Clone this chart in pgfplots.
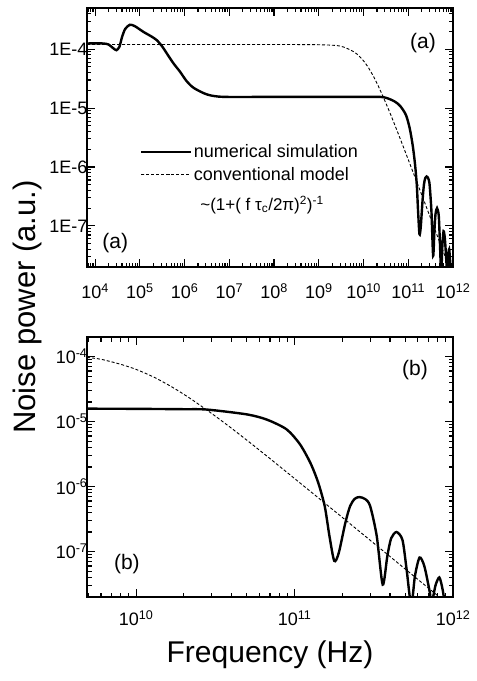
\documentclass[border=0pt]{standalone}
\usepackage{fontspec}
\setmainfont{Liberation Sans}
\usepackage{pgfplots}
\pgfplotsset{compat=1.18}

\newcommand\sci[1]{10\textsuperscript{#1}}
\newcommand\tagfont{\fontsize{21}{21}\selectfont}

\begin{document}
\begin{tikzpicture}
\useasboundingbox (0,0) rectangle (477pt,-681pt);

% upper panel (a)
\begin{axis}[
    scale only axis, width=366pt, height=259pt,
    at={(87pt,-267pt)}, anchor=south west,
    xmode=log, ymode=log,
    xmin=6.6e3, xmax=1e12, ymin=2e-8, ymax=5e-4,
    axis line style={line width=1.4pt},
    tick style={black, line width=1.1pt},
    major tick length=8pt, minor tick length=4.5pt,
    tick label style={font=\fontsize{18}{18}\selectfont},
    xtick={1e4,1e5,1e6,1e7,1e8,1e9,1e10,1e11,1e12},
    xticklabels={\sci{4},\sci{5},\sci{6},\sci{7},\sci{8},\sci{9},\sci{10},\sci{11},\sci{12}},
    minor xtick={7e3,8e3,9e3,
      2e4,3e4,4e4,5e4,6e4,7e4,8e4,9e4, 2e5,3e5,4e5,5e5,6e5,7e5,8e5,9e5,
      2e6,3e6,4e6,5e6,6e6,7e6,8e6,9e6, 2e7,3e7,4e7,5e7,6e7,7e7,8e7,9e7,
      2e8,3e8,4e8,5e8,6e8,7e8,8e8,9e8, 2e9,3e9,4e9,5e9,6e9,7e9,8e9,9e9,
      2e10,3e10,4e10,5e10,6e10,7e10,8e10,9e10, 2e11,3e11,4e11,5e11,6e11,7e11,8e11,9e11},
    xticklabel style={yshift=-13pt},
    ytick={1e-7,1e-6,1e-5,1e-4},
    yticklabels={1E-7,1E-6,1E-5,1E-4},
    minor ytick={3e-8,4e-8,5e-8,6e-8,7e-8,8e-8,9e-8,
      2e-7,3e-7,4e-7,5e-7,6e-7,7e-7,8e-7,9e-7, 2e-6,3e-6,4e-6,5e-6,6e-6,7e-6,8e-6,9e-6,
      2e-5,3e-5,4e-5,5e-5,6e-5,7e-5,8e-5,9e-5, 2e-4,3e-4,4e-4},
    yticklabel style={xshift=4pt},
    legend image post style={xscale=2.9},
    legend style={at={(0.136,0.489)}, anchor=north west, draw=none, fill=none,
        font=\fontsize{18}{18}\selectfont, legend cell align=left,
        row sep=4pt},
]
\addplot[black, line width=2.4pt, smooth, tension=0.45] coordinates {
  (6.6e3,1.25e-4) (1.5e4,1.25e-4) (2.0e4,1.2e-4) (2.5e4,1.05e-4) (3.0e4,9.6e-5)
  (3.5e4,1.1e-4) (4.0e4,1.6e-4) (4.7e4,2.2e-4) (6.0e4,2.6e-4) (7.8e4,2.45e-4)
  (1.2e5,1.97e-4) (1.8e5,1.65e-4) (2.4e5,1.42e-4) (3.2e5,1.1e-4) (4.0e5,8.5e-5)
  (5.6e5,5.8e-5) (8.0e5,4.1e-5) (1.1e6,2.9e-5) (1.6e6,2.2e-5) (3.2e6,1.7e-5)
  (7.4e6,1.55e-5) (1e8,1.55e-5) (1e9,1.55e-5) (1e10,1.55e-5) (2.8e10,1.53e-5)
  (5e10,1.29e-5) (6.7e10,1.07e-5) (8.9e10,7.6e-6) (1.08e11,4.5e-6)
  (1.26e11,2.3e-6) (1.41e11,1.15e-6) (1.55e11,5.0e-7) (1.66e11,1.74e-7)
  (1.78e11,7.2e-8) (1.9e11,9.5e-8) (2.09e11,2.75e-7) (2.24e11,5.0e-7)
  (2.4e11,6.5e-7) (2.57e11,6.9e-7) (2.8e11,6.4e-7) (3.0e11,5.0e-7)
  (3.3e11,1.74e-7) (3.6e11,3.1e-8) (3.85e11,8.5e-8) (4.07e11,1.6e-7)
  (4.4e11,2.0e-7) (4.8e11,1.5e-7) (5.1e11,5.2e-8) (5.45e11,1.5e-8)
  (5.75e11,4.2e-8) (6.15e11,8.1e-8) (6.6e11,5.9e-8) (7.15e11,2.3e-8)
  (7.3e11,1.5e-8) (7.75e11,3.0e-8) (8.2e11,4.0e-8) (8.6e11,2.6e-8) (8.9e11,1.5e-8)
};
\addlegendentry{numerical simulation}
\addplot[black, line width=0.9pt, dash pattern=on 3pt off 2pt, smooth, tension=0.45] coordinates {
  (6.6e3,1.2e-4) (1e6,1.2e-4) (1e8,1.2e-4) (1e9,1.19e-4) (3e9,1.13e-4)
  (6e9,9.1e-5) (8e9,7.6e-5) (1e10,6.35e-5) (1.3e10,4.8e-5) (1.7e10,3.36e-5)
  (2.2e10,2.26e-5) (3e10,1.33e-5) (4e10,7.9e-6) (6e10,3.64e-6) (1e11,1.33e-6)
  (2e11,3.36e-7) (4e11,8.4e-8) (8e11,2.1e-8) (1e12,1.35e-8)
};
\addlegendentry{conventional model}
\node[anchor=west, font=\fontsize{17}{17}\selectfont] at (axis description cs:0.30,0.24)
  {\textasciitilde(1+( f τ\textsubscript{c}/2π)\textsuperscript{2})\textsuperscript{-1}};
\node[font=\tagfont] at (axis description cs:0.918,0.865) {(a)};
\node[font=\tagfont] at (axis description cs:0.077,0.093) {(a)};
\end{axis}

% lower panel (b)
\begin{axis}[
    scale only axis, width=366pt, height=260pt,
    at={(87pt,-597pt)}, anchor=south west,
    xmode=log, ymode=log,
    xmin=4.9e9, xmax=1e12, ymin=2e-8, ymax=2e-4,
    axis line style={line width=1.4pt},
    tick style={black, line width=1.1pt},
    major tick length=8pt, minor tick length=4.5pt,
    tick label style={font=\fontsize{18}{18}\selectfont},
    xtick={1e10,1e11,1e12},
    xticklabels={\sci{10},\sci{11},\sci{12}},
    minor xtick={5e9,6e9,7e9,8e9,9e9,
      2e10,3e10,4e10,5e10,6e10,7e10,8e10,9e10, 2e11,3e11,4e11,5e11,6e11,7e11,8e11,9e11},
    xticklabel style={yshift=-10pt},
    ytick={1e-7,1e-6,1e-5,1e-4},
    yticklabels={\sci{-7},\sci{-6},\sci{-5},\sci{-4}},
    minor ytick={3e-8,4e-8,5e-8,6e-8,7e-8,8e-8,9e-8,
      2e-7,3e-7,4e-7,5e-7,6e-7,7e-7,8e-7,9e-7, 2e-6,3e-6,4e-6,5e-6,6e-6,7e-6,8e-6,9e-6,
      2e-5,3e-5,4e-5,5e-5,6e-5,7e-5,8e-5,9e-5},
    yticklabel style={xshift=4pt},
]
\addplot[black, line width=2.4pt, smooth, tension=0.45] coordinates {
  (4.9e9,1.58e-5) (1e10,1.57e-5) (2e10,1.55e-5) (2.8e10,1.53e-5)
  (5e10,1.29e-5) (6.7e10,1.07e-5) (8.9e10,7.6e-6) (1.08e11,4.5e-6)
  (1.26e11,2.3e-6) (1.41e11,1.15e-6) (1.55e11,5.0e-7) (1.66e11,1.74e-7)
  (1.78e11,7.2e-8) (1.9e11,9.5e-8) (2.09e11,2.75e-7) (2.24e11,5.0e-7)
  (2.4e11,6.5e-7) (2.57e11,6.9e-7) (2.8e11,6.4e-7) (3.0e11,5.0e-7)
  (3.3e11,1.74e-7) (3.6e11,3.1e-8) (3.85e11,8.5e-8) (4.07e11,1.6e-7)
  (4.4e11,2.0e-7) (4.8e11,1.5e-7) (5.1e11,5.2e-8) (5.45e11,1.5e-8)
  (5.75e11,4.2e-8) (6.15e11,8.1e-8) (6.6e11,5.9e-8) (7.15e11,2.3e-8)
  (7.3e11,1.5e-8) (7.75e11,3.0e-8) (8.2e11,4.0e-8) (8.6e11,2.6e-8) (8.9e11,1.5e-8)
};
\addplot[black, line width=0.9pt, dash pattern=on 3pt off 2pt, smooth, tension=0.45] coordinates {
  (4.9e9,9.7e-5) (6e9,9.1e-5) (8e9,7.6e-5) (1e10,6.35e-5) (1.3e10,4.8e-5)
  (1.7e10,3.36e-5) (2.2e10,2.26e-5) (3e10,1.33e-5) (4e10,7.9e-6) (6e10,3.64e-6)
  (1e11,1.33e-6) (2e11,3.36e-7) (4e11,8.4e-8) (8e11,2.1e-8) (1e12,1.35e-8)
};
\node[font=\tagfont] at (axis description cs:0.896,0.873) {(b)};
\node[font=\tagfont] at (axis description cs:0.109,0.127) {(b)};
\end{axis}

\node[rotate=90, font=\fontsize{31}{31}\selectfont] at (27pt,-307pt) {Noise power (a.u.)};
\node[font=\fontsize{30}{30}\selectfont] at (270pt,-655pt) {Frequency (Hz)};
\end{tikzpicture}
\end{document}
